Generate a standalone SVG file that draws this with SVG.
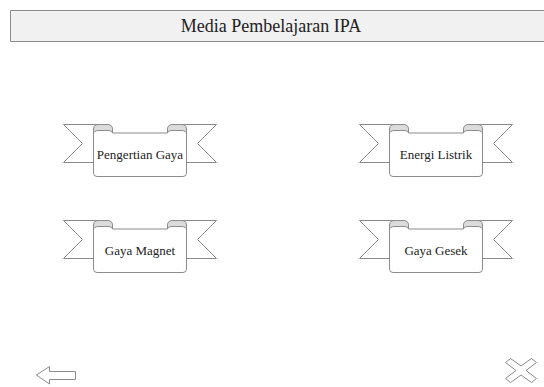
<svg xmlns="http://www.w3.org/2000/svg" xmlns:xlink="http://www.w3.org/1999/xlink" width="544" height="387" viewBox="0 0 544 387">
  <style>
    .line { stroke: #8c8c8c; stroke-width: 1; stroke-linejoin: round; }
    .paper { fill: #ffffff; }
    .fold { fill: #dcdcdc; }
    .label { font-family: 'Liberation Serif', 'DejaVu Serif', serif; font-size: 13px; fill: #222222; text-anchor: middle; }
    .title { font-family: 'Liberation Serif', 'DejaVu Serif', serif; font-size: 18px; fill: #222222; text-anchor: middle; }
  </style>
  <defs>
    <!-- banner with curled top corners, 154 x 53 -->
    <g id="ribbon">
      <path class="line paper" d="M0.5,0.5 L44,0.5 L44,38.5 L0.5,38.5 L19.5,19.5 Z"/>
      <path class="line paper" d="M153.5,0.5 L110,0.5 L110,38.5 L153.5,38.5 L134.5,19.5 Z"/>
      <path class="line fold" d="M30.5,10 L30.5,5 Q30.5,0.5 36,0.5 L44,0.5 Q49.5,0.5 49.5,5 L49.5,9 Z"/>
      <path class="line fold" d="M104.5,9 L104.5,5 Q104.5,0.5 110,0.5 L118,0.5 Q123.5,0.5 123.5,5 L123.5,10 Z"/>
      <path class="line paper" d="M30.5,10 Q30.5,6.5 36,6.5 L44,6.5 Q49.5,6.5 49.5,9 L104.5,9 Q104.5,6.5 110,6.5 L118,6.5 Q123.5,6.5 123.5,10 L123.5,49 Q123.5,52.5 120,52.5 L34,52.5 Q30.5,52.5 30.5,49 Z"/>
    </g>
  </defs>

  <g id="title-bar">
    <rect class="line" x="10.5" y="10.5" width="540" height="31" fill="#f1f1f1"/>
    <text class="title" x="271" y="32">Media Pembelajaran IPA</text>
  </g>

  <g id="node-pengertian-gaya">
    <use xlink:href="#ribbon" transform="translate(63,124)"/>
    <text class="label" x="140" y="159">Pengertian Gaya</text>
  </g>
  <g id="node-energi-listrik">
    <use xlink:href="#ribbon" transform="translate(359,124)"/>
    <text class="label" x="436" y="159">Energi Listrik</text>
  </g>
  <g id="node-gaya-magnet">
    <use xlink:href="#ribbon" transform="translate(63,220)"/>
    <text class="label" x="140" y="255">Gaya Magnet</text>
  </g>
  <g id="node-gaya-gesek">
    <use xlink:href="#ribbon" transform="translate(359,220)"/>
    <text class="label" x="436" y="255">Gaya Gesek</text>
  </g>

  <g id="button-back">
    <path class="line paper" d="M36.5,375 L49.5,366.5 L49.5,371.5 L75.5,371.5 L75.5,379.5 L49.5,379.5 L49.5,384 Z"/>
  </g>
  <g id="button-close">
    <path class="line paper" d="M505.5,362.5 L510.5,358.5 L521,366 L531.5,358.5 L536.5,362.5 L526,370.5 L536.5,378.5 L531.5,382.5 L521,375 L510.5,382.5 L505.5,378.5 L516,370.5 Z"/>
  </g>

  <g id="connectors"></g>
</svg>
